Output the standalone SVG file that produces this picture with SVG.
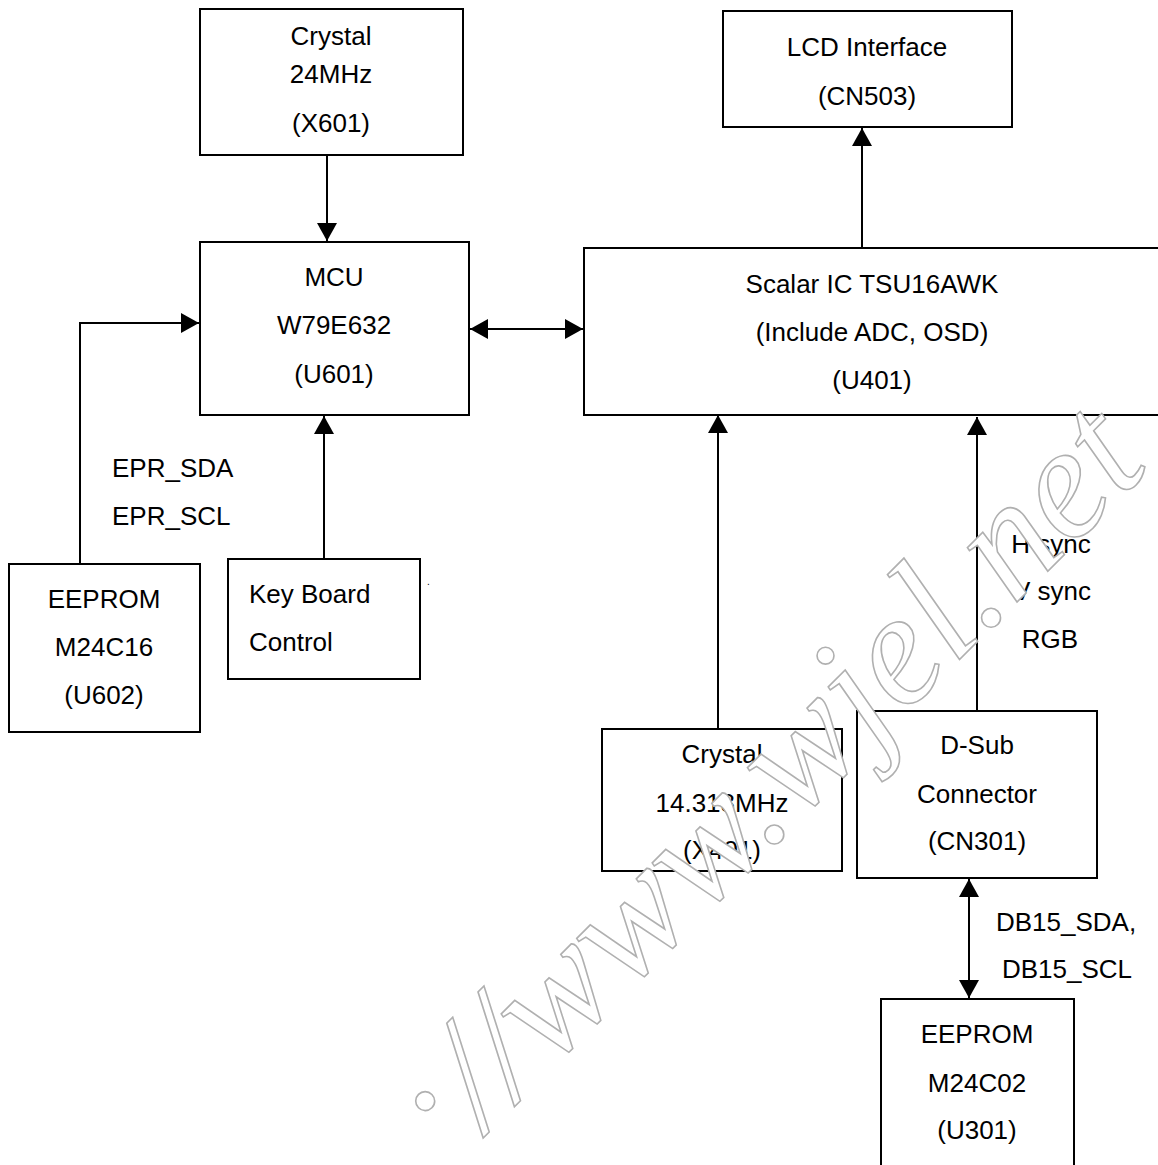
<svg xmlns="http://www.w3.org/2000/svg" width="1158" height="1165" viewBox="0 0 1158 1165">
<style>
.box{fill:#fff;stroke:#000;stroke-width:2}
.t{font-family:"Liberation Sans",Arial,sans-serif;font-size:26px;fill:#000}
.c{text-anchor:middle}
.ln{stroke:#000;stroke-width:2;fill:none}
.wm{font-family:"Liberation Serif","DejaVu Serif",serif;font-style:italic;font-size:160px;fill:#fff;stroke:#b0b0b0;stroke-width:1.6}
</style>
<defs>
<marker id="ah" viewBox="0 0 18 20" refX="18" refY="10" markerWidth="18" markerHeight="20" markerUnits="userSpaceOnUse" orient="auto-start-reverse">
<path d="M0,0 L18,10 L0,20 Z" fill="#000"/>
</marker>
<clipPath id="wmclip" clipPathUnits="userSpaceOnUse">
<polygon points="-740,-400 700,-400 700,300 -716,300 -716,-40 -740,-40"/>
</clipPath>
</defs>
<rect width="1158" height="1165" fill="#fff"/>
<g id="connectors">
<line class="ln" x1="327" y1="155" x2="327" y2="241" marker-end="url(#ah)"/>
<polyline class="ln" points="80,563 80,323 199,323" marker-end="url(#ah)"/>
<line class="ln" x1="324" y1="559" x2="324" y2="416" marker-end="url(#ah)"/>
<line class="ln" x1="470" y1="329" x2="583" y2="329" marker-start="url(#ah)" marker-end="url(#ah)"/>
<line class="ln" x1="862" y1="248" x2="862" y2="128" marker-end="url(#ah)"/>
<line class="ln" x1="718" y1="729" x2="718" y2="415" marker-end="url(#ah)"/>
<line class="ln" x1="977" y1="711" x2="977" y2="417" marker-end="url(#ah)"/>
<line class="ln" x1="969" y1="879" x2="969" y2="998" marker-start="url(#ah)" marker-end="url(#ah)"/>
</g>
<g id="crystal24">
<rect class="box" x="200" y="9" width="263" height="146"/>
<text class="t c" x="331" y="45">Crystal</text>
<text class="t c" x="331" y="83">24MHz</text>
<text class="t c" x="331" y="132">(X601)</text>
</g>
<g id="mcu">
<rect class="box" x="200" y="242" width="269" height="173"/>
<text class="t c" x="334" y="286">MCU</text>
<text class="t c" x="334" y="334">W79E632</text>
<text class="t c" x="334" y="383">(U601)</text>
</g>
<g id="lcd">
<rect class="box" x="723" y="11" width="289" height="116"/>
<text class="t c" x="867" y="56">LCD Interface</text>
<text class="t c" x="867" y="105">(CN503)</text>
</g>
<g id="scalar">
<rect class="box" x="584" y="248" width="580" height="167"/>
<text class="t c" x="872" y="293">Scalar IC TSU16AWK</text>
<text class="t c" x="872" y="341">(Include ADC, OSD)</text>
<text class="t c" x="872" y="389">(U401)</text>
</g>
<g id="eeprom602">
<rect class="box" x="9" y="564" width="191" height="168"/>
<text class="t c" x="104" y="608">EEPROM</text>
<text class="t c" x="104" y="656">M24C16</text>
<text class="t c" x="104" y="704">(U602)</text>
</g>
<g id="keyboard">
<rect class="box" x="228" y="559" width="192" height="120"/>
<text class="t" x="249" y="603">Key Board</text>
<text class="t" x="249" y="651">Control</text>
</g>
<g id="crystal14">
<rect class="box" x="602" y="729" width="240" height="142"/>
<text class="t c" x="722" y="763">Crystal</text>
<text class="t c" x="722" y="812">14.318MHz</text>
<text class="t c" x="722" y="859">(X401)</text>
</g>
<g id="dsub">
<rect class="box" x="857" y="711" width="240" height="167"/>
<text class="t c" x="977" y="754">D-Sub</text>
<text class="t c" x="977" y="803">Connector</text>
<text class="t c" x="977" y="850">(CN301)</text>
</g>
<g id="eeprom301">
<rect class="box" x="881" y="999" width="193" height="200"/>
<text class="t c" x="977" y="1043">EEPROM</text>
<text class="t c" x="977" y="1092">M24C02</text>
<text class="t c" x="977" y="1139">(U301)</text>
</g>
<g id="labels">
<text class="t" x="112" y="477">EPR_SDA</text>
<text class="t" x="112" y="525">EPR_SCL</text>
<text class="t c" x="1051" y="553">H sync</text>
<text class="t c" x="1052" y="600">V sync</text>
<text class="t c" x="1050" y="648">RGB</text>
<text class="t" x="996" y="931">DB15_SDA,</text>
<text class="t" x="1002" y="978">DB15_SCL</text>
<text class="t" x="427" y="585" style="font-size:10px">.</text>
</g>
<g id="watermark" transform="translate(982 637) rotate(-45)">
<text class="wm" x="-1002" y="0" clip-path="url(#wmclip)">http://www.wjel.net</text>
</g>
</svg>
